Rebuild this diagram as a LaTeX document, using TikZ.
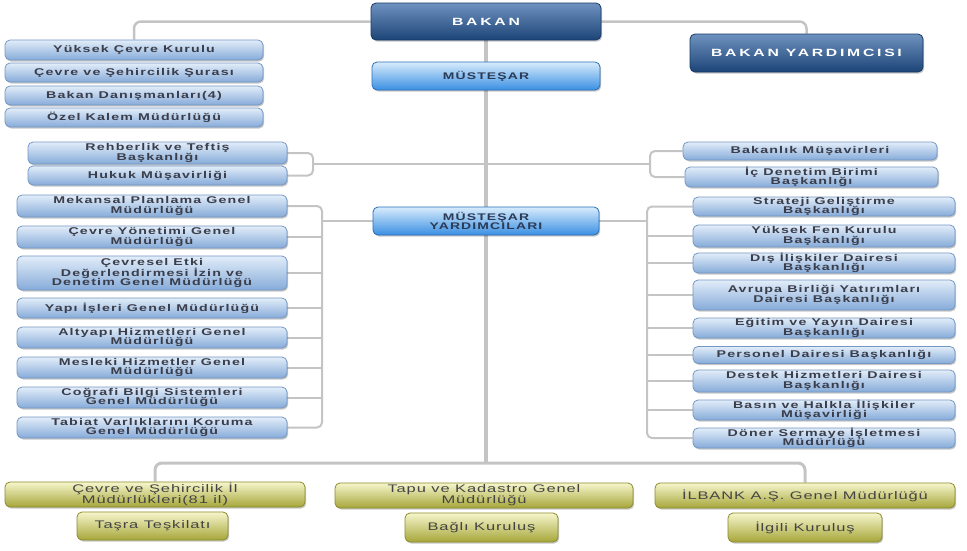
\documentclass[tikz,border=0pt]{standalone}
\usepackage{fontspec}
\usetikzlibrary{shadows,backgrounds}
\newfontfamily\bfnt[FakeStretch=1.45,LetterSpace=12]{Liberation Sans}
\newfontfamily\dfnt[FakeStretch=1.5,LetterSpace=26]{Liberation Sans}
\newfontfamily\gfnt[FakeStretch=1.5,LetterSpace=8]{Liberation Sans}
\definecolor{btop}{HTML}{E2EDF9}
\definecolor{bbot}{HTML}{86ABD9}
\definecolor{bbord}{HTML}{7497C4}
\definecolor{btxt}{HTML}{3A3D4A}
\definecolor{mtop}{HTML}{D8ECFC}
\definecolor{mbot}{HTML}{3A8FE3}
\definecolor{mbord}{HTML}{2A6FB8}
\definecolor{mtxt}{HTML}{2B3A55}
\definecolor{dtop}{HTML}{6E92C0}
\definecolor{dbot}{HTML}{1C4476}
\definecolor{dbord}{HTML}{173A63}
\definecolor{gtop}{HTML}{F6F6CC}
\definecolor{gmid}{HTML}{DADA8E}
\definecolor{gbot}{HTML}{A6A63A}
\definecolor{gbord}{HTML}{8C8C2C}
\definecolor{gtxt}{HTML}{444444}
\definecolor{lgray}{HTML}{C4C4C4}
\tikzset{
  wh/.style 2 args={minimum width=#1pt, minimum height=#2pt},
  shad/.style={drop shadow={shadow xshift=1.2pt,shadow yshift=-1.5pt,fill=black,opacity=0.22}},
  lbox/.style={shad, rounded corners=5pt, draw=bbord, line width=0.8pt, top color=btop, bottom color=bbot,
    inner sep=0pt, align=center, text=btxt, font=\bfnt\bfseries\fontsize{9.8}{9.4}\selectfont},
  mbox/.style={shad, rounded corners=5pt, draw=mbord, line width=0.8pt, top color=mtop, bottom color=mbot,
    inner sep=0pt, align=center, text=mtxt, font=\bfnt\bfseries\fontsize{9.6}{9.4}\selectfont},
  dbox/.style={shad, rounded corners=5pt, draw=dbord, line width=0.8pt, top color=dtop, bottom color=dbot,
    inner sep=0pt, align=center, text=white, font=\dfnt\bfseries\fontsize{10.5}{11}\selectfont},
  gbox/.style={shad, rounded corners=5pt, draw=gbord, line width=0.8pt, top color=gtop, middle color=gmid, bottom color=gbot,
    inner sep=0pt, align=center, text=gtxt, font=\gfnt\fontsize{11}{11}\selectfont},
  conn/.style={draw=lgray, line width=2pt, rounded corners=5pt},
  mainl/.style={draw=lgray, line width=3.5pt},
}
\begin{document}
\begin{tikzpicture}[x=1pt,y=-1pt]
\useasboundingbox (0,0) rectangle (967,550);
% top
\node[dbox, wh={230}{37}] (bakan) at (486,21.5) {BAKAN};
\node[dbox, wh={233}{38}] (byrd) at (806.5,53) {BAKAN YARDIMCISI};
\node[mbox, wh={228}{28}] (mus) at (486,76) {MÜSTEŞAR};
\node[lbox, wh={258}{20}] (yk) at (134,50) {Yüksek Çevre Kurulu};
\node[lbox, wh={258}{19}] (cs) at (134,72.5) {Çevre ve Şehircilik Şurası};
\node[lbox, wh={258}{19}] (bd) at (134,95.5) {Bakan Danışmanları(4)};
\node[lbox, wh={258}{19}] (ok) at (134,117.5) {Özel Kalem Müdürlüğü};
% upper groups
\node[lbox, wh={259}{22}] (reh) at (157.5,153) {Rehberlik ve Teftiş\\Başkanlığı};
\node[lbox, wh={259}{19}] (huk) at (157.5,175.5) {Hukuk Müşavirliği};
\node[lbox, wh={254}{18}] (bm) at (810,151) {Bakanlık Müşavirleri};
\node[lbox, wh={253}{20}] (icd) at (811.5,177) {İç Denetim Birimi\\Başkanlığı};
% main
\node[mbox, wh={226}{28}] (my) at (486,221) {MÜSTEŞAR\\YARDIMCILARI};
\node[lbox, wh={270}{22}] (mek) at (152,206) {Mekansal Planlama Genel\\Müdürlüğü};
\node[lbox, wh={270}{22}] (cyg) at (152,237) {Çevre Yönetimi Genel\\Müdürlüğü};
\node[lbox, wh={270}{34}] (ced) at (152,273) {Çevresel Etki\\Değerlendirmesi İzin ve\\Denetim Genel Müdürlüğü};
\node[lbox, wh={270}{20}] (yap) at (152,308) {Yapı İşleri Genel Müdürlüğü};
\node[lbox, wh={270}{21}] (alt) at (152,337.5) {Altyapı Hizmetleri Genel\\Müdürlüğü};
\node[lbox, wh={270}{21}] (mes) at (152,367.5) {Mesleki Hizmetler Genel\\Müdürlüğü};
\node[lbox, wh={270}{21}] (cog) at (152,397.5) {Coğrafi Bilgi Sistemleri\\Genel Müdürlüğü};
\node[lbox, wh={270}{21}] (tab) at (152,427.5) {Tabiat Varlıklarını Koruma\\Genel Müdürlüğü};
\node[lbox, wh={262}{19}] (str) at (824,206.5) {Strateji Geliştirme\\Başkanlığı};
\node[lbox, wh={262}{22}] (yfk) at (824,236) {Yüksek Fen Kurulu\\Başkanlığı};
\node[lbox, wh={262}{20}] (dis) at (824,263) {Dış İlişkiler Dairesi\\Başkanlığı};
\node[lbox, wh={262}{30}] (ab) at (824,295) {Avrupa Birliği Yatırımları\\Dairesi Başkanlığı};
\node[lbox, wh={262}{20}] (egt) at (824,328) {Eğitim ve Yayın Dairesi\\Başkanlığı};
\node[lbox, wh={262}{17}] (per) at (824,355) {Personel Dairesi Başkanlığı};
\node[lbox, wh={262}{22}] (des) at (824,381) {Destek Hizmetleri Dairesi\\Başkanlığı};
\node[lbox, wh={262}{20}] (bas) at (824,410) {Basın ve Halkla İlişkiler\\Müşavirliği};
\node[lbox, wh={262}{20}] (don) at (824,438) {Döner Sermaye İşletmesi\\Müdürlüğü};
% bottom
\node[gbox, wh={300}{25}] (cs81) at (155,494.5) {Çevre ve Şehircilik İl\\Müdürlükleri(81 il)};
\node[gbox, wh={298}{25}] (tapu) at (484,495.5) {Tapu ve Kadastro Genel\\Müdürlüğü};
\node[gbox, wh={300}{25}] (ilb) at (805,495.5) {İLBANK A.Ş.  Genel Müdürlüğü};
\node[gbox, wh={151}{28}] (tasra) at (152.5,526) {Taşra Teşkilatı};
\node[gbox, wh={153}{29}] (bagli) at (481.5,527.5) {Bağlı Kuruluş};
\node[gbox, wh={154}{29}] (ilgili) at (805,527.5) {İlgili Kuruluş};
% connectors
\coordinate (jb) at (486,463);
\coordinate (lb1) at (313,164);
\coordinate (rb1) at (650,164);
\coordinate (lb2) at (322,221);
\coordinate (rb2) at (647,221);
\begin{scope}[on background layer]
\draw[conn, line width=2.5pt, rounded corners=7pt] (bakan.west) -| (yk.north);
\draw[conn, line width=2.5pt, rounded corners=7pt] (bakan.east) -| (byrd.north);
\draw[mainl] (bakan.south) -- (jb);
\draw[conn, line width=3pt, rounded corners=7pt] (cs81.north) |- (jb) -| (ilb.north);
\draw[conn] (reh.east) -| (lb1) |- (huk.east);
\draw[conn] (lb1) -- (lb1 -| mus.south);
\draw[conn] (bm.west) -| (rb1) |- (icd.west);
\draw[conn] (rb1) -- (rb1 -| mus.south);
\draw[conn] (mek.east) -| (lb2) |- (tab.east);
\draw[conn] (my.west) -- (lb2);
\foreach \n in {cyg,ced,yap,alt,mes,cog} \draw[conn] (\n.east) -- (\n.east -| lb2);
\draw[conn] (str.west) -| (rb2) |- (don.west);
\draw[conn] (my.east) -- (rb2);
\foreach \n in {yfk,dis,ab,egt,per,des,bas} \draw[conn] (\n.west) -- (\n.west -| rb2);
\end{scope}
\end{tikzpicture}
\end{document}
